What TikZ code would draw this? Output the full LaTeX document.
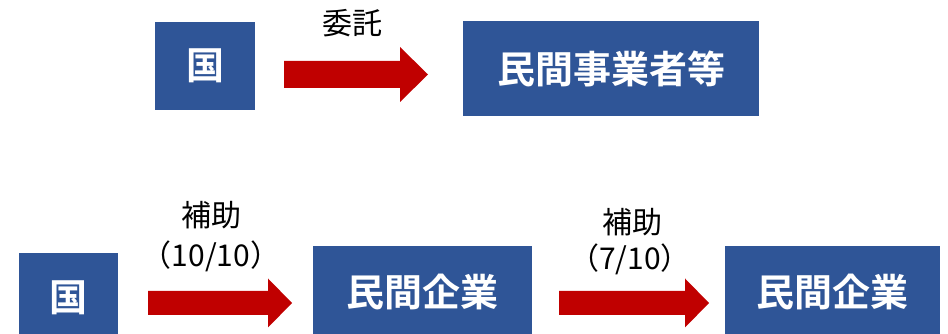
\documentclass[tikz,border=0pt]{standalone}
\usepackage{fontspec}
\newfontfamily\jpfont{Noto Sans CJK JP}
\newfontfamily\jpbold{Noto Sans CJK JP Bold}
\definecolor{boxblue}{HTML}{2F5597}
\definecolor{arrowred}{HTML}{C00000}
\tikzset{
  bluebox/.style={fill=boxblue, text=white, inner sep=0pt, font=\jpbold\fontsize{38}{42}\selectfont},
  lbl/.style={inner sep=0pt, text=black, font=\jpfont\fontsize{30}{34}\selectfont},
  blockarrow/.style={fill=arrowred, draw=none}
}
% \barrowdraw{name}{x1}{xhead}{x2}{yc}{shaft half}{head half}
\newcommand{\barrowdraw}[7]{%
  \fill[blockarrow] (#2,#5-#6) -- (#3,#5-#6) -- (#3,#5-#7) -- (#4,#5) -- (#3,#5+#7) -- (#3,#5+#6) -- (#2,#5+#6) -- cycle;
  \coordinate (#1) at (#4,#5);
}
\begin{document}
\begin{tikzpicture}[x=1pt,y=1pt]
\useasboundingbox (0,0) rectangle (948,334);
\clip (0,0) rectangle (948,334);
% top row
\node[bluebox, minimum width=100pt, minimum height=88pt] (g1) at (205,268) {国};
\node[bluebox, minimum width=296pt, minimum height=95pt] (big) at (611,265.5) {民間事業者等};
\barrowdraw{a1}{284}{400}{428}{259.5}{13.5}{27.5}
\node[lbl] (l1) at (352,311) {委託};
% bottom row
\node[bluebox, minimum width=99pt, minimum height=90pt] (g2) at (68.5,36) {国};
\node[bluebox, minimum width=219pt, minimum height=92pt] (m1) at (422.5,42) {民間企業};
\node[bluebox, minimum width=215pt, minimum height=92pt] (m2) at (832.5,42) {民間企業};
\barrowdraw{a2}{148}{268}{292}{31}{12}{24.5}
\barrowdraw{a3}{559}{685}{709}{31}{12}{24.5}
\node[lbl] (l2) at (211,119) {補助};
\node[lbl] (l3) at (211,78) {（10/10）};
\node[lbl] (l4) at (632,112) {補助};
\node[lbl] (l5) at (630,75) {（7/10）};
\end{tikzpicture}
\end{document}
